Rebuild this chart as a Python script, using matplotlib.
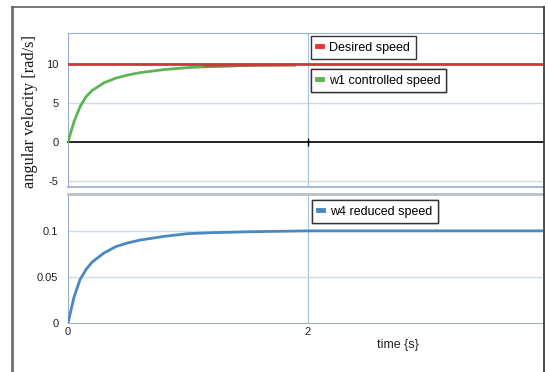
import matplotlib.pyplot as plt
import matplotlib.lines as mlines

# data
t_green = [0, 0.05, 0.1, 0.15, 0.2, 0.3, 0.4, 0.5, 0.6, 0.8, 1.0, 1.2, 1.39]
w1_speed = [0, 2.6, 4.5, 5.8, 6.6, 7.6, 8.2, 8.6, 8.9, 9.3, 9.55, 9.7, 9.78]
t_olive = [1.14, 1.4, 1.6, 1.89]
w1_tail = [9.72, 9.8, 9.84, 9.87]
desired = 10.0

t_blue = [0, 0.05, 0.1, 0.15, 0.2, 0.3, 0.4, 0.5, 0.6, 0.8, 1.0, 1.2, 1.5, 2.0, 3.96]
w4_speed = [0, 0.028, 0.047, 0.058, 0.066, 0.076, 0.083, 0.087, 0.090, 0.094,
            0.097, 0.098, 0.099, 0.1, 0.1]

top_yticks = [-5, 0, 5, 10]
bot_yticks = [0, 0.05, 0.1]
bot_yticklabels = ["0", "0.05", "0.1"]
xticks = [0, 2]

RED = "#c83a3a"
GREEN = "#5cb552"
BLUE = "#4a88c0"
GRID = "#c8dde8"
VGRID = "#a9c6e6"
SPINE = "#98aecb"

plt.rcParams["font.family"] = ["Liberation Sans", "DejaVu Sans"]
plt.rcParams["axes.unicode_minus"] = False
fig = plt.figure(figsize=(5.49, 3.72), dpi=100)

W, H = 549, 372
def box(l, t, r, b):
    return [l / W, 1 - b / H, (r - l) / W, (b - t) / H]

ax1 = fig.add_axes(box(68, 33, 543, 187))
ax2 = fig.add_axes(box(68, 194, 543, 323))

xmax = 3.96

# top panel
ax1.set_xlim(0, xmax)
ax1.set_ylim(-5.8, 14.0)
for y in top_yticks:
    if y != 0:
        ax1.axhline(y, color=GRID, lw=1, zorder=1)
ax1.axvline(2, color=VGRID, lw=0.9, zorder=1)
ax1.axhline(desired, color=RED, lw=2, zorder=4)
ax1.plot(t_green, w1_speed, color=GREEN, lw=2, zorder=3)
ax1.plot(t_olive, w1_tail, color="#96703c", lw=2, zorder=3)
ax1.axhline(-5.8, color=SPINE, lw=1.2, clip_on=False, zorder=5)

ax1.spines["right"].set_visible(False)
ax1.spines["left"].set_color(SPINE)
ax1.spines["top"].set_color(SPINE)
ax1.spines["bottom"].set_position(("data", 0))
ax1.spines["bottom"].set_color("black")
ax1.spines["bottom"].set_linewidth(1.2)
ax1.set_xticks([2])
ax1.set_xticklabels([])
ax1.tick_params(axis="x", direction="inout", length=6, width=1, color="black")
ax1.set_yticks(top_yticks)
ax1.tick_params(axis="y", length=0, pad=7, labelsize=8, labelcolor="#222222")

# bottom panel
ax2.set_xlim(0, xmax)
ax2.set_ylim(0, 0.140)
for y in bot_yticks[1:]:
    ax2.axhline(y, color=GRID, lw=1, zorder=1)
ax2.axvline(2, color=VGRID, lw=0.9, zorder=1)
ax2.plot(t_blue, w4_speed, color=BLUE, lw=2, zorder=3)
ax2.spines["right"].set_visible(False)
ax2.spines["left"].set_color(SPINE)
ax2.spines["bottom"].set_color(SPINE)
ax2.spines["top"].set_color("#b9bfc4")
ax2.spines["top"].set_linewidth(2)
ax2.set_yticks(bot_yticks)
ax2.set_yticklabels(bot_yticklabels)
ax2.set_xticks(xticks)
ax2.tick_params(axis="y", length=0, pad=7, labelsize=8, labelcolor="#222222")
ax2.tick_params(axis="x", length=0, pad=3, labelsize=8, labelcolor="#222222")
ax2.set_xlabel("time {s}", fontsize=9, color="#222222")
ax2.xaxis.set_label_coords((398 - 68) / 475, (323 - 339) / 129)

fig.text(30 / W, 1 - 112 / H, "angular velocity [rad/s]", rotation=90,
         ha="center", va="center", fontsize=11.8, family="Liberation Serif",
         color="#1a1a1a")

# legends
def add_legend(ax, color, label, x, y):
    h = mlines.Line2D([], [], color=color, lw=3.5)
    leg = ax.legend(handles=[h], labels=[label], loc="upper left",
                    bbox_to_anchor=(x, y), fontsize=9, handlelength=0.45,
                    handletextpad=0.55, borderpad=0.45, fancybox=False,
                    framealpha=1, edgecolor="#333333", borderaxespad=0)
    leg.get_frame().set_linewidth(1)
    leg.set_zorder(10)
    ax.add_artist(leg)

add_legend(ax1, "#e83434", "Desired speed", (311 - 68) / 475, (187 - 36) / 154)
add_legend(ax1, GREEN, "w1 controlled speed", (311 - 68) / 475, (187 - 69) / 154)
add_legend(ax2, BLUE, "w4 reduced speed", (312 - 68) / 475, (323 - 200) / 129)

# outer frame of the screenshot panel
fig.add_artist(mlines.Line2D([12 / W, 12 / W], [0, 1 - 7 / H], color="#707070", lw=2))
fig.add_artist(mlines.Line2D([12 / W, 544 / W], [1 - 7 / H, 1 - 7 / H], color="#606060", lw=1.2))
fig.add_artist(mlines.Line2D([544 / W, 544 / W], [0, 1 - 7 / H], color="#303030", lw=1.2))

fig.savefig("out.png", dpi=100)
